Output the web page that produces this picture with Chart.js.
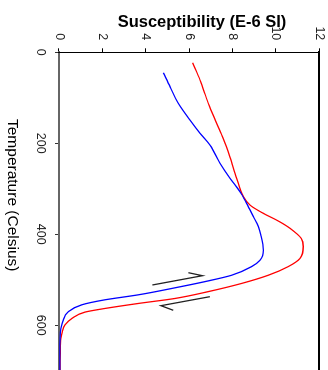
<!DOCTYPE html>
<html>
<head>
<meta charset="utf-8">
<script src="https://cdn.jsdelivr.net/npm/chart.js@4/dist/chart.umd.min.js"></script>
<style>
  html, body { margin: 0; padding: 0; width: 328px; height: 370px; overflow: hidden; background: #fff; }
  /* the plot is laid out with temperature along x, then turned a quarter turn clockwise */
  #plot { position: absolute; left: 0; top: 0; width: 380px; height: 328px;
          transform-origin: 0 0; transform: translate(328px, 0) rotate(90deg); }
  .title { position: absolute; color: #000; font-family: "Liberation Sans", Arial, sans-serif; white-space: nowrap; }
  #susTitle { left: 102px; top: 11px; width: 200px; text-align: center; font-weight: bold; font-size: 16.5px; line-height: 20px; }
  #tempTitle { left: 4px; top: 119px; writing-mode: vertical-rl; font-size: 15.5px; line-height: 18px; }
</style>
</head>
<body>
<div id="plot"><canvas id="c" width="380" height="328"></canvas></div>
<div class="title" id="susTitle">Susceptibility (E-6 SI)</div>
<div class="title" id="tempTitle">Temperature (Celsius)</div>
<script>
// Heating run (red)
const heatTemp = [23, 61, 112, 156, 189, 230, 277, 317, 336, 354, 369, 387, 409, 427, 453, 471, 490, 508, 526, 541, 552, 563, 571, 585, 599, 614, 629, 660, 700];
const heatSus  = [6.16, 6.50, 6.88, 7.27, 7.57, 7.88, 8.19, 8.50, 8.81, 9.42, 10.04, 10.65, 11.17, 11.26, 11.11, 10.57, 9.65, 8.42, 6.88, 5.35, 3.66, 2.12, 1.20, 0.59, 0.28, 0.15, 0.09, 0.06, 0.05];

// Cooling run (blue)
const coolTemp = [45, 76, 112, 149, 178, 204, 244, 277, 306, 332, 361, 383, 402, 435, 457, 471, 490, 504, 519, 533, 544, 555, 570, 588, 607, 629, 660, 700];
const coolSus  = [4.81, 5.12, 5.50, 6.04, 6.50, 6.96, 7.42, 7.88, 8.34, 8.65, 8.96, 9.19, 9.31, 9.42, 9.27, 8.88, 7.96, 6.73, 5.20, 3.66, 2.12, 1.05, 0.43, 0.20, 0.09, 0.05, 0.04, 0.04];

// Direction arrows: tail, tip, barb
const coolArrowTemp = [511.4, 491.0, 484.4];
const coolArrowSus  = [4.30, 6.61, 5.96];
const heatArrowTemp = [537.1, 556.9, 567.0];
const heatArrowSus  = [6.96, 4.70, 5.27];

// Axis ticks
const tempTicks = [0, 200, 400, 600];
const susTicks  = [0, 2, 4, 6, 8, 10, 12];

const pts = (xs, ys) => xs.map((x, i) => ({ x: x, y: ys[i] }));
const tickFont = { family: '"Liberation Sans Narrow", "Arial Narrow", "Liberation Sans", sans-serif', size: 12.5 };
const noEdgePadding = s => { s.paddingTop = 0; s.paddingBottom = 0; s.paddingLeft = 0; s.paddingRight = 0; };

new Chart(document.getElementById('c'), {
  type: 'scatter',
  data: {
    datasets: [
      { data: pts(coolTemp, coolSus), showLine: true, borderColor: '#0000ff', borderWidth: 1.3,
        pointRadius: 0, cubicInterpolationMode: 'monotone' },
      { data: pts(heatTemp, heatSus), showLine: true, borderColor: '#ff0000', borderWidth: 1.3,
        pointRadius: 0, cubicInterpolationMode: 'monotone' },
      { data: pts(coolArrowTemp, coolArrowSus), showLine: true, borderColor: '#222', borderWidth: 1.3,
        pointRadius: 0, tension: 0 },
      { data: pts(heatArrowTemp, heatArrowSus), showLine: true, borderColor: '#222', borderWidth: 1.3,
        pointRadius: 0, tension: 0 }
    ]
  },
  options: {
    responsive: false,
    animation: false,
    devicePixelRatio: 1,
    events: [],
    layout: { padding: { left: 0, top: 8.7, right: 9.2, bottom: 0 } },
    plugins: { legend: { display: false }, tooltip: { enabled: false } },
    scales: {
      x: {
        type: 'linear', position: 'bottom', min: 0, max: 700,
        afterBuildTicks: s => { s.ticks = tempTicks.map(v => ({ value: v })); },
        afterFit: s => { s.height = 59; noEdgePadding(s); },
        ticks: { font: tickFont, color: '#222', padding: 7, maxRotation: 0 },
        grid: { display: true, drawOnChartArea: false, drawTicks: true, tickLength: 4, color: '#333' },
        border: { display: true, color: '#666', width: 2 }
      },
      x2: {
        type: 'linear', position: 'top', min: 0, max: 700,
        afterFit: s => { s.height = 0; noEdgePadding(s); },
        ticks: { display: false },
        grid: { display: false },
        border: { display: true, color: '#000', width: 2 }
      },
      y: {
        type: 'linear', position: 'left', min: 0, max: 12,
        afterBuildTicks: s => { s.ticks = susTicks.map(v => ({ value: v })); },
        afterFit: s => { s.width = 52.3; noEdgePadding(s); },
        ticks: { font: tickFont, color: '#222', padding: 8 },
        grid: { display: true, drawOnChartArea: false, drawTicks: true, tickLength: 4, color: '#000' },
        border: { display: true, color: '#000', width: 1 }
      }
    }
  }
});
</script>
</body>
</html>
